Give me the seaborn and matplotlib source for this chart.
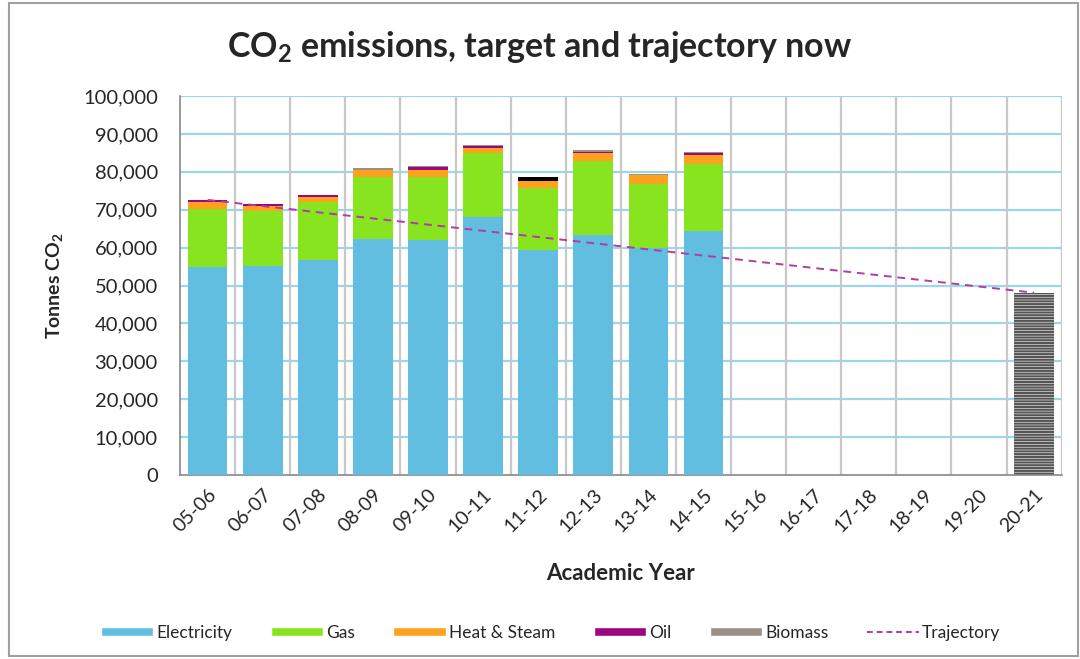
import numpy as np
import pandas as pd
import seaborn as sns
import matplotlib.pyplot as plt
from matplotlib.patches import Patch, Rectangle
from matplotlib.lines import Line2D

years = ["05-06", "06-07", "07-08", "08-09", "09-10", "10-11", "11-12", "12-13",
         "13-14", "14-15", "15-16", "16-17", "17-18", "18-19", "19-20", "20-21"]

# tonnes CO2 per source, actual years only (05-06 .. 14-15)
electricity = [54900, 55200, 56700, 62400, 61900, 68100, 59500, 63300, 60000, 64400]
gas = [15200, 14500, 15300, 16200, 16700, 16800, 16300, 19600, 16800, 17700]
heat_steam = [2000, 1300, 1400, 2000, 2000, 1400, 1800, 2000, 2300, 2300]
oil = [400, 500, 500, 0, 600, 500, 0, 400, 0, 500]
biomass = [100, 100, 100, 400, 400, 400, 0, 400, 400, 300]
other = [0, 0, 0, 0, 0, 0, 1100, 0, 0, 0]  # black segment in 11-12

target_year = "20-21"
target_value = 48100

traj_years = ["05-06", "20-21"]
traj_values = [72600, 48100]

colors = {
    "Electricity": "#62BEE0",
    "Gas": "#88E41F",
    "Heat & Steam": "#FCA21E",
    "Oil": "#9C067E",
    "Biomass": "#9B9085",
}

sns.set_style("white")
plt.rcParams["font.family"] = ["Lato", "DejaVu Sans"]
plt.rcParams["mathtext.fontset"] = "custom"
plt.rcParams["mathtext.rm"] = "Lato"
plt.rcParams["mathtext.bf"] = "Lato:bold"
plt.rcParams["hatch.linewidth"] = 1.6

fig = plt.figure(figsize=(10.8, 6.59), dpi=100)
ax = fig.add_axes([0.1667, 0.2792, 0.8163, 0.5751])

actual = years[:len(electricity)]
layers = [("Electricity", electricity), ("Gas", gas), ("Heat & Steam", heat_steam),
          ("Oil", oil), ("Biomass", biomass), ("Other", other)]
cum = np.cumsum([np.array(v) for _, v in layers], axis=0)

# draw cumulative totals from the top layer down so each one covers the next
for (name, _), tops in reversed(list(zip(layers, cum))):
    df = pd.DataFrame({"year": actual, "value": tops})
    c = colors.get(name, "black")
    sns.barplot(data=df, x="year", y="value", order=years, color=c,
                saturation=1, width=0.72, ax=ax, linewidth=0, zorder=3)

# target bar with horizontal hatching
df_t = pd.DataFrame({"year": [target_year], "value": [target_value]})
sns.barplot(data=df_t, x="year", y="value", order=years, color="white",
            saturation=1, width=0.72, ax=ax, linewidth=0, zorder=3)
for p in ax.patches[-1:]:
    p.set_hatch("------")
    p.set_edgecolor("#555555")

# trajectory line
traj_x = [years.index(y) for y in traj_years]
sns.lineplot(x=traj_x, y=traj_values, ax=ax, color="#B03CA8", linestyle=(0, (4, 3)),
             linewidth=1.4, zorder=4)

ax.set_xlim(-0.5, len(years) - 0.5)
ax.set_ylim(0, 100000)
ax.set_yticks(np.arange(0, 100001, 10000))
ax.set_yticklabels([f"{v:,}" for v in range(0, 100001, 10000)], fontsize=14.5)
ax.set_xticks(range(len(years)))
ax.set_xticklabels(years, rotation=45, ha="right", rotation_mode="anchor", fontsize=14)
ax.tick_params(axis="x", which="major", length=0, pad=8)
ax.set_xticks(np.arange(-0.5, len(years), 1), minor=True)
ax.tick_params(axis="x", which="minor", length=6, color="#888888", direction="inout")
ax.tick_params(axis="y", length=6, color="#888888", direction="inout", pad=13)

ax.grid(False)
for yv in range(10000, 100001, 10000):
    ax.axhline(yv, color="#9DD5EA", linewidth=1.6, zorder=1)
for xv in np.arange(0.5, len(years) - 0.4, 1):
    ax.axvline(xv, color="#C8C8C8", linewidth=1.6, zorder=1)

for s in ["top", "right"]:
    ax.spines[s].set_visible(False)
for s in ["left", "bottom"]:
    ax.spines[s].set_color("#888888")
    ax.spines[s].set_linewidth(1.2)

ax.set_xlabel("Academic Year", fontsize=16, fontweight="bold", labelpad=20)
ax.set_ylabel(r"Tonnes CO$_\mathregular{2}$", fontsize=14, fontweight="bold", labelpad=12)
fig.text(0.5, 0.929, r"CO$_\mathbf{2}$ emissions, target and trajectory now",
         ha="center", va="center", fontsize=24.5, fontweight="bold")

handles = [Patch(facecolor=colors[n], label=n) for n in colors]
handles.append(Line2D([0], [0], color="#B03CA8", linestyle=(0, (3, 2)), linewidth=1.4,
                      label="Trajectory"))
fig.legend(handles=handles, loc="center", bbox_to_anchor=(0.51, 0.04), ncol=6,
           frameon=False, fontsize=12.5, handlelength=3.0, handleheight=0.5,
           columnspacing=2.2, handletextpad=0.2)

fig.patches.append(Rectangle((0.008, 0.005), 0.99, 0.99, transform=fig.transFigure,
                             fill=False, edgecolor="#A0A0A0", linewidth=1.5))

fig.savefig("out.png", dpi=100)
